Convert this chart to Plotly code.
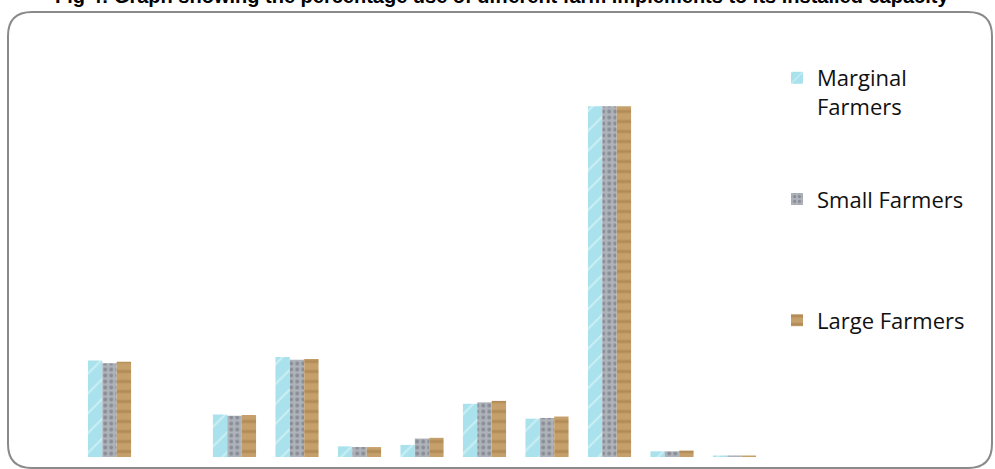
import plotly.graph_objects as go

# Implement categories (axis labels are not displayed)
categories = ["Tractor", "Power tiller", "Cultivator", "Rotavator", "Seed drill",
              "Harrow", "Thresher", "Sprayer", "Pump set", "Reaper", "Combine"]

# Percentage use of each implement by farmer class
marginal = [13.6, 0.0, 6.0, 14.1, 1.5, 1.7, 7.5, 5.4, 49.4, 0.8, 0.15]
small    = [13.2, 0.0, 5.8, 13.7, 1.4, 2.6, 7.7, 5.5, 49.4, 0.8, 0.15]
large    = [13.4, 0.0, 5.9, 13.8, 1.4, 2.7, 7.9, 5.7, 49.4, 0.9, 0.15]

series_names = ["Marginal<br>Farmers", "Small Farmers<br>&nbsp;", "Large Farmers"]

W, H = 995, 469


def px(x, y):
    """Convert pixel position to paper coordinates (margins are zero)."""
    return f"{x / W:.5f},{1 - y / H:.5f}"


fig = go.Figure()

fig.add_trace(go.Bar(
    x=categories, y=marginal, name=series_names[0], legendgroup="m",
    marker=dict(color="#A9E2EC", line=dict(width=0),
                pattern=dict(shape="/", fgcolor="#E6F8FB", fgopacity=0.55,
                             size=14, solidity=0.15)),
))
fig.add_trace(go.Bar(
    x=categories, y=small, name=series_names[1], legendgroup="s",
    marker=dict(color="#AEB2BA", line=dict(width=0),
                pattern=dict(shape=".", fgcolor="#6F737C", fgopacity=0.6,
                             size=6, solidity=0.35)),
))
fig.add_trace(go.Bar(
    x=categories, y=large, name=series_names[2], legendgroup="l",
    marker=dict(color="#C6A06A", line=dict(width=0),
                pattern=dict(shape="-", fgcolor="#8C6434", fgopacity=0.35,
                             size=10, solidity=0.3)),
))

# Rounded frame around the chart area
r = 24
x0, y0, x1, y1 = 8, 12, 992, 468
frame = (f"M {px(x0, y0 + r)} Q {px(x0, y0)} {px(x0 + r, y0)} "
         f"L {px(x1 - r, y0)} Q {px(x1, y0)} {px(x1, y0 + r)} "
         f"L {px(x1, y1 - r)} Q {px(x1, y1)} {px(x1 - r, y1)} "
         f"L {px(x0 + r, y1)} Q {px(x0, y1)} {px(x0, y1 - r)} Z")
fig.add_shape(type="path", path=frame, xref="paper", yref="paper",
              line=dict(color="#8A8A8A", width=2), layer="below")

fig.add_annotation(
    text="Fig 4: Graph showing the percentage use of different farm implements to its installed capacity",
    xref="paper", yref="paper", x=502 / W, y=1, xanchor="center", yanchor="bottom",
    yshift=-9, showarrow=False,
    font=dict(family="Liberation Sans, Arial", size=20, color="#000000", weight="bold"),
)

fig.update_layout(
    width=W, height=H,
    margin=dict(l=0, r=0, t=0, b=0),
    paper_bgcolor="white", plot_bgcolor="white",
    barmode="group", bargap=0.31, bargroupgap=0,
    font=dict(family="Open Sans, sans-serif", size=22, color="#000000"),
    showlegend=True,
    legend=dict(
        x=777 / W, y=1 - 57 / H, xanchor="left", yanchor="top",
        traceorder="grouped", tracegroupgap=61, valign="top",
        itemwidth=30, bgcolor="rgba(0,0,0,0)",
        font=dict(family="Open Sans, sans-serif", size=22, color="#111111"),
    ),
    xaxis=dict(domain=[78.25 / W, 765.75 / W], range=[-0.5, 10.5],
               showticklabels=False, showgrid=False, zeroline=False,
               showline=False, ticks=""),
    yaxis=dict(domain=[(H - 457) / H, (H - 66.5) / H], range=[0, 55],
               showticklabels=False, showgrid=False, zeroline=False,
               showline=False, ticks=""),
)

fig.write_html("out.html")
